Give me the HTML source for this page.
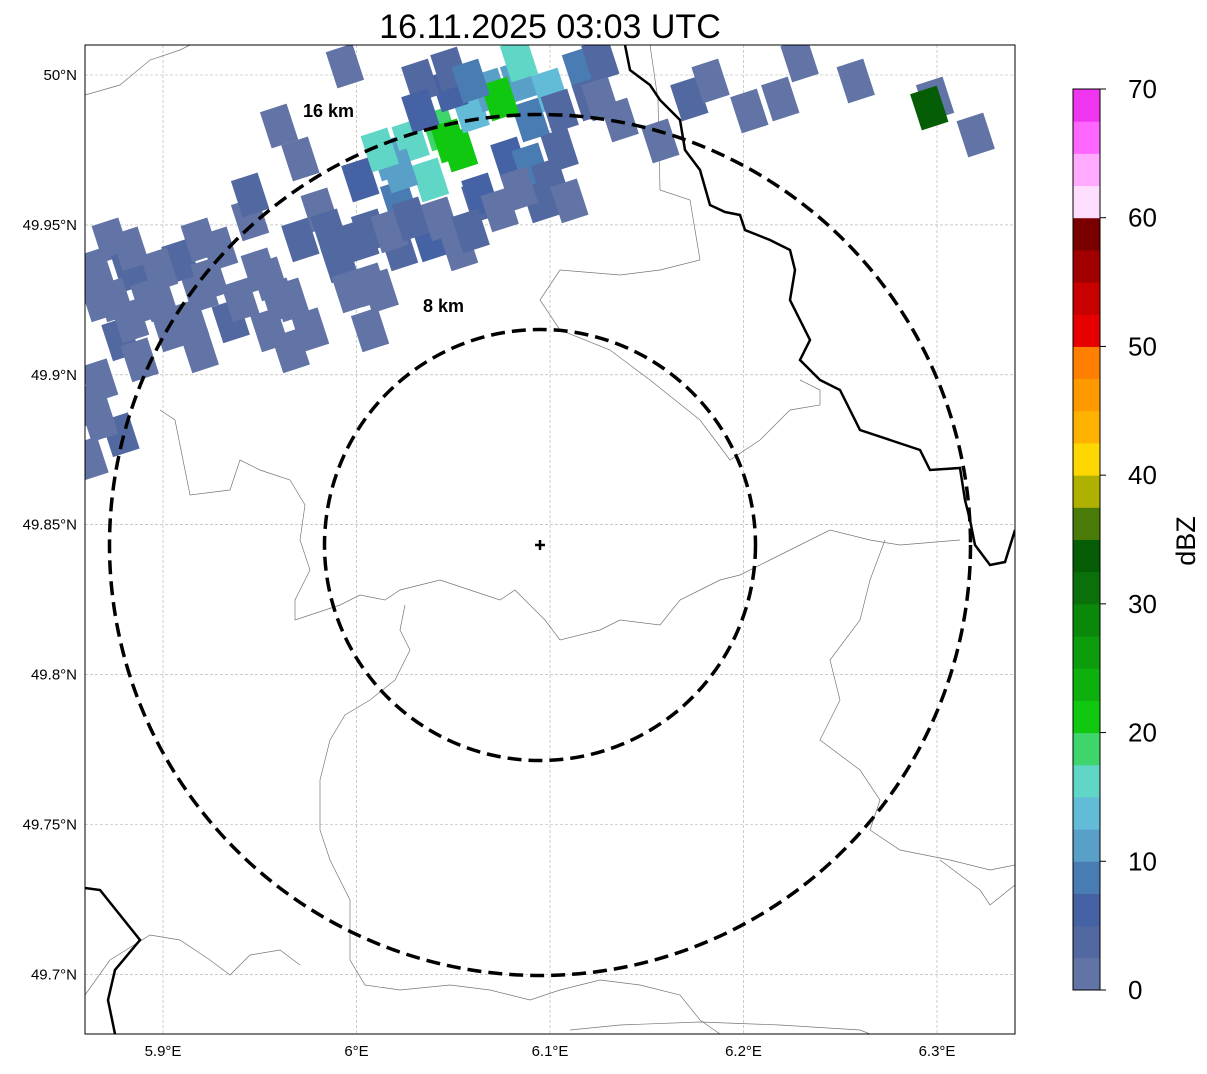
<!DOCTYPE html>
<html><head><meta charset="utf-8"><style>
body{margin:0;background:#fff;font-family:"Liberation Sans",sans-serif}
</style></head><body>
<svg width="1207" height="1069" xmlns="http://www.w3.org/2000/svg" font-family="Liberation Sans, sans-serif">
<text x="550" y="38" font-size="34" text-anchor="middle">16.11.2025 03:03 UTC</text>
<defs><clipPath id="mapclip"><rect x="85" y="45" width="930" height="989"/></clipPath></defs>
<g id="map" clip-path="url(#mapclip)"></g>
<rect x="85" y="45" width="930" height="989" fill="none" stroke="#000" stroke-width="1"/>
<g id="ticks"></g>
<g id="cbar"></g>
<text x="1195" y="541" font-size="27" text-anchor="middle" transform="rotate(-90 1195 541)">dBZ</text>
</svg>
<script>
const lonTicks=[5.9,6.0,6.1,6.2,6.3];
const lonLabels=["5.9°E","6°E","6.1°E","6.2°E","6.3°E"];
const latTicks=[50,49.95,49.9,49.85,49.8,49.75,49.7];
const latLabels=["50°N","49.95°N","49.9°N","49.85°N","49.8°N","49.75°N","49.7°N"];
const cbLevels=[0,10,20,30,40,50,60,70];
const cbColors=["#6274a6","#5268a0","#4462a4","#4a7cb4","#58a0c8","#62bcd8","#60d6c6","#3ed66a","#10c810","#0eb00e","#0c9c0c","#0a880a","#0a700a","#055e05","#4a7a08","#b0b000","#ffd700","#ffb300","#ff9900","#ff7f00","#e60000","#c80000","#a00000","#7a0000","#ffddff","#ffaaff","#ff66ff","#f035f0"];
const cellLon=[5.873,5.883,5.867,5.893,5.878,5.904,5.919,5.867,5.888,5.909,5.929,5.945,5.950,5.971,5.966,5.981,5.991,6.007,6.002,6.017,6.028,6.043,6.053,6.038,6.022,6.059,6.069,6.084,6.048,6.033,6.090,6.079,6.095,6.064,6.038,6.022,6.053,6.012,5.935,5.955,5.919,6.105,6.100,6.116,6.126,6.084,6.074,6.048,5.997,5.971,5.960,5.994,6.172,6.183,6.203,6.219,6.229,6.258,6.320,6.299,6.157,6.121,6.136,6.296,5.862,5.878,6.090,6.064,6.007,5.945,
5.865,5.875,5.883,5.898,5.914,5.924,5.940,5.955,5.960,5.976,5.986,6.002,6.017,6.028,6.043,6.059,6.074,6.084,6.100,6.110,6.022,6.012,6.033,6.048,6.059,6.105,6.126,5.883,5.898,5.919,5.867,5.862,5.966,6.007];
const cellLat=[49.945,49.935,49.925,49.925,49.912,49.915,49.928,49.898,49.905,49.938,49.942,49.952,49.935,49.945,49.925,49.955,49.938,49.948,49.965,49.972,49.978,49.982,49.975,49.965,49.958,49.988,49.995,49.998,49.995,49.998,49.985,49.972,49.958,49.958,49.945,49.942,49.942,49.928,49.918,49.915,49.908,49.975,49.995,50.002,50.005,50.005,49.992,49.978,49.928,49.972,49.983,50.003,49.992,49.998,49.988,49.992,50.005,49.998,49.980,49.992,49.978,49.992,49.985,49.989,49.890,49.880,49.970,49.960,49.930,49.960,
49.935,49.925,49.918,49.925,49.918,49.932,49.925,49.932,49.925,49.915,49.948,49.945,49.948,49.952,49.952,49.948,49.955,49.962,49.965,49.958,49.968,49.975,49.988,50.002,49.998,49.988,49.992,49.942,49.935,49.945,49.885,49.872,49.908,49.915];
const cellDbz=[2,3,1,2,3,2,2,2,1,3,2,1,2,3,2,2,3,4,6,12,15,18,20,16,8,14,10,12,5,3,8,6,4,3,5,4,2,2,3,2,1,3,13,8,3,16,21,22,1,2,1,2,3,2,1,2,1,1,2,2,2,3,1,33,2,3,9,7,2,4,
1,2,1,2,1,2,1,2,1,2,3,4,2,3,2,3,2,1,3,2,10,16,6,3,8,4,2,1,2,1,2,1,1,2];
const X=lon=>163+(lon-5.9)*1935, Y=lat=>75+(50-lat)*2998;
const NS="http://www.w3.org/2000/svg";
function mk(tag,attrs,parent){const e=document.createElementNS(NS,tag);for(const k in attrs)e.setAttribute(k,attrs[k]);parent.appendChild(e);return e;}
const map=document.getElementById('map'),ticks=document.getElementById('ticks'),cbar=document.getElementById('cbar');
function colorFor(v){return cbColors[Math.max(0,Math.min(27,Math.floor(v/2.5)))];}
lonTicks.forEach((t,i)=>{
 const l=mk('line',{x1:X(t),x2:X(t),y1:45,y2:1034,stroke:'#aaa','stroke-width':0.6,'stroke-dasharray':'3,2'},map);
 
 
 const tx=mk('text',{x:X(t),y:1056,'font-size':15,'text-anchor':'middle'},ticks);tx.textContent=lonLabels[i];
 
 
});
latTicks.forEach((t,i)=>{
 const l=mk('line',{x1:85,x2:1015,y1:Y(t),y2:Y(t),stroke:'#aaa','stroke-width':0.6,'stroke-dasharray':'3,2'},map);
 
 
 const tx=mk('text',{x:77,y:Y(t)+5,'font-size':15,'text-anchor':'end'},ticks);tx.textContent=latLabels[i];
 
 
});
const thin=["M85,95 L120,85 L150,60 L180,50 L190,45","M160,410 L175,420 L185,470 L190,495 L230,490 L240,460 L260,470 L290,480 L305,505 L300,540 L310,570 L295,600 L295,620 L340,605 L360,595 L385,600 L400,590 L440,580 L470,590 L500,600 L515,590 L530,605 L545,620 L560,640 L600,630 L620,620 L660,625 L680,600 L700,590 L720,580 L740,575 L770,560 L800,545 L830,530 L870,540 L900,545 L960,540",
"M405,605 L400,630 L410,650 L395,680 L370,700 L345,715 L330,740 L320,780 L320,830 L330,860 L350,900 L350,960 L365,985 L400,990 L450,985 L490,990 L530,1000 L560,990 L600,980 L640,985 L680,995 L700,1020 L720,1034",
"M85,995 L110,960 L150,935 L180,940 L210,960 L230,975 L250,955 L280,950 L300,965",
"M650,45 L658,100 L660,190 L690,200 L700,260 L660,270 L620,275 L560,270 L540,300 L560,330 L610,350 L650,380 L700,420 L730,460 L760,440 L790,410 L820,405 L820,390 L800,380",
"M885,540 L870,580 L860,620 L830,660 L840,700 L820,740 L860,770 L880,800 L870,830 L900,850 L950,860 L990,870 L1015,865",
"M570,1030 L620,1025 L700,1022 L780,1025 L860,1030 L870,1034","M940,860 L980,890 L990,905 L1015,885"];
thin.forEach(d=>{const p=mk('path',{d,fill:'none',stroke:'#777','stroke-width':0.7},map);
 
 });
cellLon.forEach((lon,i)=>{
 const cx=X(lon),cy=Y(cellLat[i]);
 const r=mk('rect',{x:cx-14,y:cy-19,width:28,height:38,fill:colorFor(cellDbz[i]),transform:`rotate(-18 ${cx} ${cy})`},map);
 
 
});
const thick=["M625,45 L630,70 L650,85 L660,100 L680,120 L685,150 L700,170 L710,205 L725,212 L740,215 L745,230 L770,240 L790,250 L795,270 L790,300 L800,320 L810,340 L800,360 L820,380 L840,390 L850,410 L860,430 L890,440 L920,450 L930,470 L960,468 L965,500 L970,520 L975,545 L990,565 L1005,562 L1015,530",
"M85,888 L100,890 L140,940 L115,970 L108,1000 L115,1034"];
thick.forEach(d=>{const p=mk('path',{d,fill:'none',stroke:'#000','stroke-width':2.5},map);
 
 });
[[215.5,'ring-8km'],[430.5,'ring-16km']].forEach(([r,n])=>{const c=mk('circle',{cx:540,cy:545,r,fill:'none',stroke:'#000','stroke-width':3.5,'stroke-dasharray':'14,7'},map);
 
 });
const t1=mk('text',{x:303,y:117,'font-size':18,'font-weight':'bold'},map);t1.textContent='16 km';


const t2=mk('text',{x:423,y:312,'font-size':18,'font-weight':'bold'},map);t2.textContent='8 km';


const cm=mk('path',{d:'M535,545 L545,545 M540,540 L540,550',stroke:'#000','stroke-width':2.5},map);


const cbTop=89,cbBot=990,cbH=(cbBot-cbTop)/cbColors.length;
cbColors.forEach((c,i)=>{const r=mk('rect',{x:1073,y:cbBot-(i+1)*cbH,width:27,height:cbH+0.5,fill:c},cbar);
 
 });
mk('rect',{x:1073,y:cbTop,width:27,height:cbBot-cbTop,fill:'none',stroke:'#000','stroke-width':1},cbar);
cbLevels.forEach(v=>{const y=cbBot-(v/70)*(cbBot-cbTop);
 mk('line',{x1:1100,x2:1106,y1:y,y2:y,stroke:'#000'},cbar);
 const t=mk('text',{x:1128,y:y+9,'font-size':26},cbar);t.textContent=v;
 
 });
</script>
</body></html>
